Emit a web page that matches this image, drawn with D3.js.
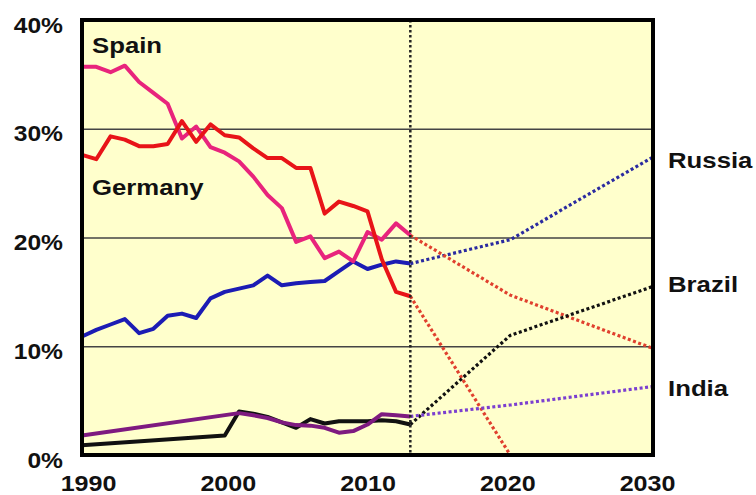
<!DOCTYPE html>
<html>
<head>
<meta charset="utf-8">
<script src="https://cdn.jsdelivr.net/npm/d3@7"></script>
<style>
  body { margin: 0; background: #fff; }
  svg { display: block; }
  text { font-family: "Liberation Sans", Arial, sans-serif; font-weight: bold; fill: #111; }
</style>
</head>
<body>
<div id="chart"></div>
<script>
  // share of total, in percent, [year, value]
  var spain = [[1990,35.7],[1991,35.7],[1992,35.2],[1993,35.8],[1994,34.3],[1995,33.3],[1996,32.3],
    [1997,29.1],[1998,30.2],[1999,28.3],[2000,27.8],[2001,27.0],[2002,25.6],[2003,23.9],[2004,22.7],
    [2005,19.6],[2006,20.1],[2007,18.1],[2008,18.7],[2009,17.8],[2010,20.5],[2011,19.8],[2012,21.3],[2013,20.2]];
  var germany = [[1990,27.6],[1991,27.2],[1992,29.3],[1993,29.0],[1994,28.4],[1995,28.4],[1996,28.6],
    [1997,30.7],[1998,28.8],[1999,30.4],[2000,29.4],[2001,29.2],[2002,28.2],[2003,27.3],[2004,27.3],
    [2005,26.4],[2006,26.4],[2007,22.2],[2008,23.3],[2009,22.9],[2010,22.4],[2011,18.0],[2012,15.0],[2013,14.6]];
  var russia = [[1990,10.9],[1991,11.5],[1992,12.0],[1993,12.5],[1994,11.2],[1995,11.6],[1996,12.8],
    [1997,13.0],[1998,12.6],[1999,14.4],[2000,15.0],[2001,15.3],[2002,15.6],[2003,16.5],[2004,15.6],
    [2005,15.8],[2006,15.9],[2007,16.0],[2008,16.9],[2009,17.8],[2010,17.1],[2011,17.5],[2012,17.8],[2013,17.6]];
  var brazil = [[1990,0.9],[2000,1.8],[2001,4.0],[2002,3.8],[2003,3.5],[2004,3.0],[2005,2.5],[2006,3.3],
    [2007,2.9],[2008,3.1],[2009,3.1],[2010,3.1],[2011,3.2],[2012,3.1],[2013,2.8]];
  var india = [[1990,1.8],[2001,3.85],[2002,3.65],[2003,3.4],[2004,3.0],[2005,2.75],[2006,2.7],[2007,2.5],
    [2008,2.05],[2009,2.2],[2010,2.8],[2011,3.75],[2012,3.65],[2013,3.55]];

  // projections
  var spainProj = [[2013,20.2],[2020,14.7],[2030,9.8]];
  var germanyProj = [[2013,14.6],[2020,0]];
  var russiaProj = [[2013,17.6],[2020,19.8],[2030,27.4]];
  var brazilProj = [[2013,2.8],[2020,11.0],[2030,15.5]];
  var indiaProj = [[2013,3.55],[2020,4.6],[2030,6.3]];

  var yearTicks = [1990, 2000, 2010, 2020, 2030];
  var pctTicks = [0, 10, 20, 30, 40];
  var gridTicks = [10, 20, 30];
  var splitYear = 2013;

  var margin = {top: 20, right: 103, bottom: 40, left: 82},
      width = 756 - margin.left - margin.right,
      height = 495 - margin.top - margin.bottom;

  var svg = d3.select("#chart").append("svg")
    .attr("width", 756)
    .attr("height", 495);
  var g = svg.append("g")
    .attr("transform", "translate(" + margin.left + "," + margin.top + ")");

  var x = d3.scaleLinear().domain([1990, 2030]).range([0, width]);
  var xLabel = d3.scaleLinear().domain([1990, 2030]).range([6, width - 6]);
  var y = d3.scaleLinear().domain([0, 40]).range([height, 0]);

  g.append("rect")
    .attr("width", width)
    .attr("height", height)
    .attr("fill", "#ffffcc");

  // grid
  var grid = g.append("g")
    .call(d3.axisLeft(y).tickValues(gridTicks).tickSize(-width).tickFormat(""));
  grid.select(".domain").remove();
  grid.selectAll("line").attr("stroke", "#444").attr("stroke-width", 1.4);

  // y labels
  var yAxis = g.append("g")
    .call(d3.axisLeft(y).tickValues(pctTicks).tickSize(0).tickFormat(function(d) { return d + "%"; }));
  yAxis.select(".domain").remove();
  yAxis.selectAll("text")
    .attr("x", -19 / 1.12)
    .attr("dy", "0.55em")
    .attr("font-size", "22px")
    .attr("transform", "scale(1.12,1)")
    .style("fill", "#111");

  // x labels
  var xAxis = g.append("g")
    .attr("transform", "translate(0," + height + ")")
    .call(d3.axisBottom(xLabel).tickValues(yearTicks).tickSize(0).tickFormat(d3.format("d")));
  xAxis.select(".domain").remove();
  xAxis.selectAll(".tick text")
    .attr("y", 36)
    .attr("dy", 0)
    .attr("font-size", "22px")
    .attr("transform", "scale(1.14,1)")
    .style("fill", "#111");

  var line = d3.line()
    .x(function(d) { return x(d[0]); })
    .y(function(d) { return y(d[1]); });

  function solid(data, color) {
    g.append("path")
      .datum(data)
      .attr("d", line)
      .attr("fill", "none")
      .attr("stroke", color)
      .attr("stroke-width", 4)
      .attr("stroke-linejoin", "round");
  }
  function dotted(data, color) {
    g.append("path")
      .datum(data)
      .attr("d", line)
      .attr("fill", "none")
      .attr("stroke", color)
      .attr("stroke-width", 3.2)
      .attr("stroke-dasharray", "3,2.5");
  }

  solid(russia, "#1c1cb4");
  solid(spain, "#e8247c");
  solid(germany, "#e81418");
  solid(brazil, "#111");
  solid(india, "#7e1a80");

  dotted(russiaProj, "#2a2aa0");
  dotted(spainProj, "#e0402e");
  dotted(germanyProj, "#e0402e");
  dotted(brazilProj, "#111");
  dotted(indiaProj, "#7b3fd0");

  // split line
  g.append("line")
    .attr("x1", x(splitYear)).attr("x2", x(splitYear))
    .attr("y1", 0).attr("y2", height)
    .attr("stroke", "#222")
    .attr("stroke-width", 2.5)
    .attr("stroke-dasharray", "2.5,2.5");

  // frame
  g.append("rect")
    .attr("width", width)
    .attr("height", height)
    .attr("fill", "none")
    .attr("stroke", "#000")
    .attr("stroke-width", 4);

  // series labels
  var labels = [
    {text: "Spain", px: 92, py: 53},
    {text: "Germany", px: 92, py: 195},
    {text: "Russia", px: 668, py: 168},
    {text: "Brazil", px: 668, py: 292},
    {text: "India", px: 668, py: 396}
  ];
  svg.selectAll(".label")
    .data(labels)
    .enter().append("text")
    .attr("class", "label")
    .attr("font-size", "23px")
    .attr("transform", function(d) { return "translate(" + d.px + "," + d.py + ") scale(1.12,1)"; })
    .text(function(d) { return d.text; });
</script>
</body>
</html>
